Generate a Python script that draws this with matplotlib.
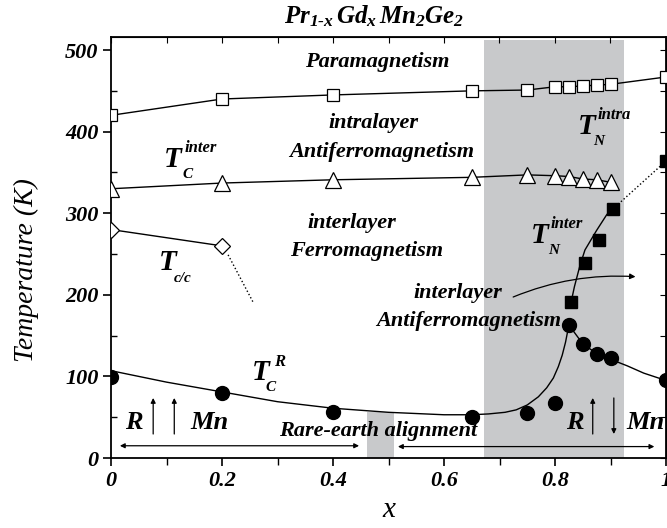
import matplotlib
matplotlib.use("Agg")
import matplotlib.pyplot as plt
from matplotlib.patches import FancyArrowPatch
from matplotlib.ticker import MultipleLocator

plt.rcParams['font.family'] = 'Liberation Serif'
plt.rcParams['font.style'] = 'italic'
plt.rcParams['font.weight'] = 'bold'
plt.rcParams['mathtext.fontset'] = 'custom'
plt.rcParams['mathtext.rm'] = 'Liberation Serif:bold:italic'
plt.rcParams['mathtext.it'] = 'Liberation Serif:bold:italic'
plt.rcParams['mathtext.bf'] = 'Liberation Serif:bold:italic'

# T_N intra (open squares)
x_intra = [0, 0.2, 0.4, 0.65, 0.75, 0.8, 0.825, 0.85, 0.875, 0.9, 1.0]
t_intra = [420, 440, 445, 450, 451, 455, 455, 456, 457, 458, 467]

# T_C inter (open triangles)
x_cinter = [0, 0.2, 0.4, 0.65, 0.75, 0.8, 0.825, 0.85, 0.875, 0.9]
t_cinter = [330, 337, 341, 344, 347, 346, 345, 342, 341, 338]

# T_c/c (open diamonds)
x_cc = [0, 0.2]
t_cc = [280, 260]
x_cc_dot = [0.211, 0.256]
t_cc_dot = [249, 191]

# T_N inter (filled squares)
x_ninter = [0.829, 0.854, 0.879, 0.904, 1.0]
t_ninter = [191, 239, 267, 305, 364]
x_ninter_fit = [0.829, 0.835, 0.845, 0.854, 0.875, 0.893, 0.904]
t_ninter_fit = [191, 210, 236, 255, 279, 298, 307]
x_ninter_dot = [0.904, 1.0]
t_ninter_dot = [305, 364]

# T_C^R (filled circles)
x_r = [0, 0.2, 0.4, 0.65, 0.75, 0.8, 0.825, 0.85, 0.875, 0.9, 1.0]
t_r = [99, 80, 56, 50, 55, 67, 163, 140, 127, 122, 95]
x_r_fit = [0, 0.1, 0.2, 0.3, 0.4, 0.5, 0.6, 0.65, 0.68, 0.71, 0.73, 0.75,
           0.77, 0.785, 0.797, 0.806, 0.813, 0.819, 0.825]
t_r_fit = [107, 93, 81, 69, 61, 56, 53, 53, 54, 56, 59, 65,
           75, 86, 98, 112, 126, 142, 163]
x_r_fit2 = [0.825, 0.85, 0.875, 0.9, 0.93, 0.96, 1.0]
t_r_fit2 = [163, 140, 128, 121, 113, 104, 95]

fig = plt.figure(figsize=(6.67, 5.28), dpi=100)
ax = fig.add_axes([111 / 667, 70 / 528, 555 / 667, 421 / 528])

# shaded regions
ax.axvspan(0.672, 0.925, ymin=0, ymax=512 / 516, color='#c8c9cb', lw=0, zorder=0)
ax.axvspan(0.461, 0.51, ymin=0, ymax=56 / 516, color='#c8c9cb', lw=0, zorder=0)

ax.plot(x_intra, t_intra, '-', color='black', lw=1, zorder=2)
ax.plot(x_intra, t_intra, 's', ms=9, mfc='white', mec='black', mew=0.9, zorder=3)

ax.plot(x_cinter, t_cinter, '-', color='black', lw=1, zorder=2)
ax.plot(x_cinter, t_cinter, '^', ms=11, mfc='white', mec='black', mew=0.9, zorder=3)

ax.plot(x_cc, t_cc, '-', color='black', lw=1, zorder=2)
ax.plot(x_cc, t_cc, 'D', ms=8.5, mfc='white', mec='black', mew=0.9, zorder=3)
ax.plot(x_cc_dot, t_cc_dot, ':', color='black', lw=1, zorder=2)

ax.plot(x_ninter_fit, t_ninter_fit, '-', color='black', lw=1, zorder=2)
ax.plot(x_ninter_dot, t_ninter_dot, ':', color='black', lw=1, zorder=2)
ax.plot(x_ninter, t_ninter, 's', ms=9, mfc='black', mec='black', zorder=3)

ax.plot(x_r_fit, t_r_fit, '-', color='black', lw=1, zorder=2)
ax.plot(x_r_fit2, t_r_fit2, '-', color='black', lw=1, zorder=2)
ax.plot(x_r, t_r, 'o', ms=10, mfc='black', mec='black', zorder=3)

# region labels
fs = 16
ax.text(0.48, 485, 'Paramagnetism', fontsize=fs, ha='center', va='center')
ax.text(0.472, 410, 'intralayer', fontsize=fs, ha='center', va='center')
ax.text(0.488, 375, 'Antiferromagnetism', fontsize=fs, ha='center', va='center')
ax.text(0.434, 288, 'interlayer', fontsize=fs, ha='center', va='center')
ax.text(0.461, 254, 'Ferromagnetism', fontsize=fs, ha='center', va='center')
ax.text(0.625, 202, 'interlayer', fontsize=fs, ha='center', va='center')
ax.text(0.645, 168, 'Antiferromagnetism', fontsize=fs, ha='center', va='center')
ax.text(0.481, 33, 'Rare-earth alignment', fontsize=fs, ha='center', va='center')


def tlabel(x, y, sup, sub, sup_off, sub_off):
    # big T with small super/subscripts, offsets in pixels from T baseline centre
    ax.text(x, y, 'T', fontsize=21, ha='center', va='baseline')
    if sup:
        ax.annotate(sup, (x, y), xytext=sup_off, textcoords='offset pixels',
                    fontsize=12, ha='left', va='baseline')
    if sub:
        ax.annotate(sub, (x, y), xytext=sub_off, textcoords='offset pixels',
                    fontsize=11, ha='left', va='baseline')


tlabel(0.112, 357, 'inter', 'C', (11, 15), (9, -11))
tlabel(0.857, 397, 'intra', 'N', (11, 15), (7, -11))
tlabel(0.103, 230, None, 'c/c', None, (6, -12))
tlabel(0.773, 263, 'inter', 'N', (11, 15), (8, -11))
tlabel(0.27, 96, 'R', 'C', (13, 14), (5, -11))

ax.text(0.042, 44, 'R', fontsize=19, ha='center', va='center')
ax.text(0.178, 44, 'Mn', fontsize=19, ha='center', va='center')
ax.text(0.836, 44, 'R', fontsize=19, ha='center', va='center')
ax.text(0.928, 44, 'Mn', fontsize=19, ha='left', va='center')

arrow_kw = dict(arrowstyle='-|>', mutation_scale=7, color='black', lw=0.9)
ax.add_patch(FancyArrowPatch((0.076, 26), (0.076, 77), **arrow_kw))
ax.add_patch(FancyArrowPatch((0.114, 26), (0.114, 77), **arrow_kw))
ax.add_patch(FancyArrowPatch((0.868, 26), (0.868, 77), **arrow_kw))
ax.add_patch(FancyArrowPatch((0.906, 77), (0.906, 26), **arrow_kw))
ax.add_patch(FancyArrowPatch((0.011, 15), (0.452, 15), arrowstyle='<|-|>',
                             mutation_scale=7, color='black', lw=0.9))
ax.add_patch(FancyArrowPatch((0.512, 14), (0.984, 14), arrowstyle='<|-|>',
                             mutation_scale=7, color='black', lw=0.9))
ax.add_patch(FancyArrowPatch((0.72, 196), (0.95, 222), arrowstyle='-|>',
                             connectionstyle='arc3,rad=-0.12',
                             mutation_scale=8, color='black', lw=0.9))

ax.set_xlim(0, 1)
ax.set_ylim(0, 516)
ax.xaxis.set_minor_locator(MultipleLocator(0.1))
ax.yaxis.set_major_locator(MultipleLocator(100))
ax.yaxis.set_minor_locator(MultipleLocator(50))
ax.set_xticks([0, 0.2, 0.4, 0.6, 0.8, 1.0])
ax.set_xticklabels(['0', '0.2', '0.4', '0.6', '0.8', '1'])
ax.tick_params(axis='both', which='major', direction='out', length=6, width=1.2,
               labelsize=16, pad=3)
ax.tick_params(axis='x', which='minor', direction='out', length=5, width=1)
ax.tick_params(axis='y', which='minor', direction='in', length=4, width=1)
for s in ax.spines.values():
    s.set_linewidth(1.3)

top = ax.secondary_xaxis('top')
top.xaxis.set_major_locator(MultipleLocator(0.1))
top.tick_params(direction='in', length=4, labeltop=False)
right = ax.secondary_yaxis('right')
right.yaxis.set_major_locator(MultipleLocator(50))
right.tick_params(direction='in', length=4, labelright=False)

ax.set_xlabel('x', fontsize=21, labelpad=5)
ax.set_ylabel('Temperature (K)', fontsize=20)
ax.yaxis.set_label_coords(-0.13, 0.446)
ax.set_title(r'$Pr_{1\text{-}x}\,Gd_{x}\,Mn_{2}Ge_{2}$', fontsize=18, pad=10, x=0.474)

fig.savefig('out.png', dpi=100)
